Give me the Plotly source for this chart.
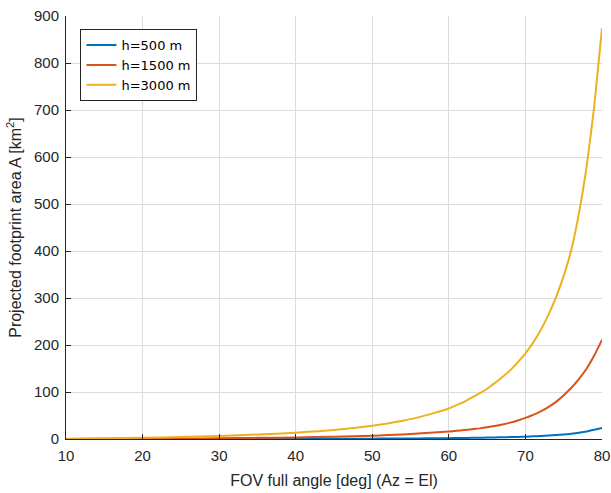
import plotly.graph_objects as go

fov_deg = [10, 15, 20, 25, 30, 35, 40, 45, 50, 52, 54, 56, 58,
           60, 61, 62, 63, 64, 65, 66, 67, 68, 69, 70, 71, 72, 73, 74, 75, 76, 77, 78, 79, 80]

area_h500 = [0.017, 0.04, 0.07, 0.12, 0.18, 0.26, 0.37, 0.53, 0.78, 0.92, 1.08, 1.28, 1.53,
             1.8, 2.0, 2.2, 2.45, 2.7, 3.0, 3.3, 3.65, 4.05, 4.5, 5.05, 5.7, 6.45, 7.3, 8.4,
             9.65, 11.2, 13.4, 16.1, 19.7, 23.5]

area_h1500 = [0.15, 0.35, 0.65, 1.05, 1.6, 2.4, 3.4, 4.8, 7, 8.3, 9.8, 11.6, 13.6,
              16, 17.4, 19, 20.7, 22.6, 25, 27.8, 31, 34.8, 39.5, 45, 51.5, 59, 68, 79, 93,
              109, 128, 150, 178, 211]

area_h3000 = [0.6, 1.4, 2.6, 4.2, 6.5, 9.5, 13.5, 19, 28, 33, 39, 46, 55,
              65, 72, 79, 88, 97, 107, 119, 132, 146, 163, 182, 205, 232, 264, 302, 347,
              403, 481, 581, 710, 874]

series_names = ["h=500 m", "h=1500 m", "h=3000 m"]
series_colors = ["#0072BD", "#D95319", "#EDB120"]

x_ticks = [10, 20, 30, 40, 50, 60, 70, 80]
y_ticks = [0, 100, 200, 300, 400, 500, 600, 700, 800, 900]

fig = go.Figure()
for name, vals, col in zip(series_names, [area_h500, area_h1500, area_h3000], series_colors):
    fig.add_trace(go.Scatter(x=fov_deg, y=vals, mode="lines", name=name,
                             line=dict(color=col, width=2, shape="spline", smoothing=0.5)))

font_family = "Liberation Sans, Arial, Helvetica, sans-serif"
axis_common = dict(
    showline=True, linecolor="#262626", linewidth=1, mirror=False,
    ticks="inside", ticklen=5, tickcolor="#262626", tickwidth=1,
    showgrid=True, gridcolor="#dcdcdc", gridwidth=1, zeroline=False,
    automargin=False,
    tickfont=dict(family=font_family, size=15, color="#262626"),
)

fig.update_layout(
    width=611, height=493,
    margin=dict(l=66, r=9, t=16, b=54),
    paper_bgcolor="white", plot_bgcolor="white",
    font=dict(family=font_family, color="#262626"),
    showlegend=True,
    legend=dict(x=0.027, y=0.969, xanchor="left", yanchor="top",
                bgcolor="white", bordercolor="#262626", borderwidth=1,
                font=dict(family="DejaVu Sans, Liberation Sans, sans-serif", size=13,
                          color="#000000"),
                tracegroupgap=0, itemwidth=30),
    xaxis=dict(range=[10, 80], tickvals=x_ticks, ticklabelstandoff=3,
               title=dict(text="FOV full angle [deg] (Az = El)", standoff=11,
                          font=dict(family=font_family, size=16, color="#262626")),
               **axis_common),
    yaxis=dict(range=[0, 900], tickvals=y_ticks, ticklabelstandoff=3,
               title=dict(text="Projected footprint area A [km<sup>2</sup>]", standoff=8,
                          font=dict(family=font_family, size=16, color="#262626")),
               **axis_common),
)

fig.write_html("out.html")
